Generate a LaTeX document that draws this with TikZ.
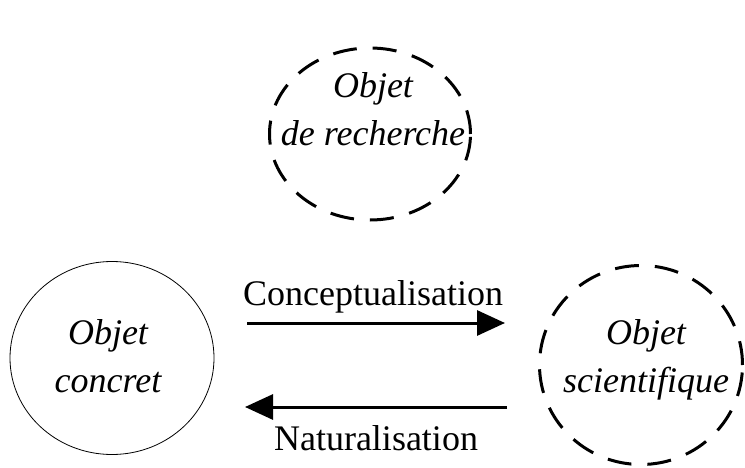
\documentclass[tikz,border=0pt]{standalone}
\usepackage{fontspec}
\setmainfont{Liberation Serif}
\usetikzlibrary{shapes.geometric,arrows.meta}

\tikzset{
  objet/.style={ellipse, inner sep=0pt},
  texte/.style={align=center, inner sep=0pt,
    font=\fontsize{36}{48}\selectfont\itshape},
  tirets/.style={draw, line width=3pt, dash pattern=on 24pt off 16pt},
  fleche/.style={line width=3pt, -{Triangle[length=28pt,width=25pt]}},
  libelle/.style={font=\fontsize{36}{48}\selectfont, anchor=base}
}

\begin{document}
\begin{tikzpicture}[x=1pt,y=-1pt]
  \useasboundingbox (0,0) rectangle (745,468);

  % Objets
  \node[objet, tirets, minimum width=201pt, minimum height=172pt] (recherche) at (370,134) {};
  \node[objet, draw, line width=0.8pt, minimum width=204pt, minimum height=193pt] (concret) at (112,358) {};
  \node[objet, tirets, minimum width=203pt, minimum height=199pt] (scient) at (641,365) {};

  % Textes
  \node[texte] (rechtxt) at (373,109) {Objet\\de recherche};
  \node[texte] (concrettxt) at (108,356) {Objet\\concret};
  \node[texte] (scienttxt) at (646,360) {Objet\\scientifique};

  % Fleches
  \coordinate (c1) at (247,323);
  \coordinate (c2) at (505,323);
  \coordinate (n1) at (507,407);
  \coordinate (n2) at (245,407);
  \draw[fleche] (c1) -- (c2);
  \draw[fleche] (n1) -- (n2);

  % Libelles
  \node[libelle] (concept) at (373,305) {Conceptualisation};
  \node[libelle] (natur) at (376,450) {Naturalisation};
\end{tikzpicture}
\end{document}
